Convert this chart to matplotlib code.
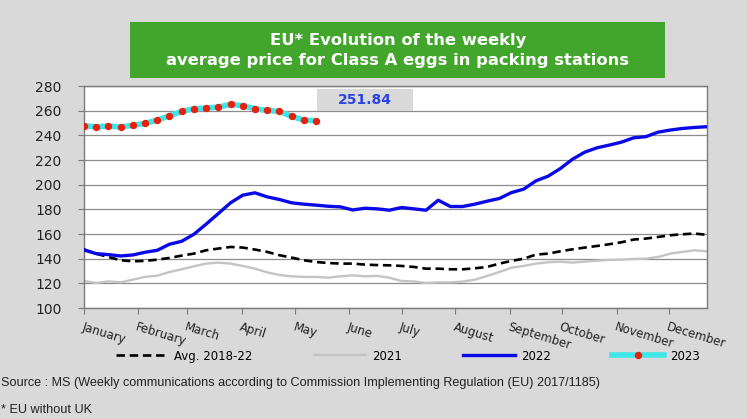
"""
EU weekly average price for Class A eggs in packing stations.
Recreated as a single static figure saved to out.png.
"""

import matplotlib
matplotlib.use("Agg")
import matplotlib.pyplot as plt

BG = "#d9d9d9"
GREEN = "#42a62c"

# week numbers (1..52) and month start positions in week units
weeks = list(range(1, 53))
month_pos = [1.0, 5.4, 9.4, 13.9, 18.3, 22.7, 27.0, 31.4, 35.9, 40.1, 44.6, 48.9]
month_labels = ["January", "February", "March", "April", "May", "June", "July",
                "August", "September", "October", "November", "December"]

avg_2018_22 = [147.6, 144.0, 141.4, 138.7, 137.9, 138.2, 139.2, 140.6, 142.5, 144.1,
               146.8, 148.2, 149.5, 149.0, 147.4, 145.5, 142.8, 140.9, 138.7, 137.3,
               136.5, 136.0, 136.0, 135.2, 134.8, 134.6, 134.1, 133.3, 131.9, 131.9,
               131.4, 131.4, 132.2, 133.3, 136.0, 138.2, 140.0, 143.3, 144.1, 146.0,
               147.6, 149.0, 150.3, 151.7, 153.3, 155.5, 156.3, 157.6, 159.0, 159.8,
               160.4, 159.3]

y2021 = [121.9, 120.3, 121.6, 120.8, 123.0, 125.2, 126.2, 129.2, 131.4, 133.8,
         136.0, 136.8, 136.0, 134.1, 131.9, 128.9, 126.8, 125.7, 125.2, 125.2,
         124.6, 125.7, 126.5, 125.7, 126.0, 124.6, 121.9, 121.6, 120.3, 120.8,
         120.8, 121.4, 123.0, 126.0, 129.2, 132.7, 134.1, 136.0, 137.1, 137.6,
         136.8, 137.6, 138.4, 139.0, 139.2, 139.8, 140.0, 141.4, 144.1, 145.5,
         146.8, 146.0]

y2022 = [147.0, 144.1, 143.3, 142.2, 143.0, 145.2, 146.8, 151.7, 154.1, 159.8,
         168.0, 176.6, 185.3, 191.5, 193.4, 190.1, 188.0, 185.3, 184.2, 183.4,
         182.5, 182.0, 179.5, 180.9, 180.4, 179.3, 181.5, 180.4, 179.3, 187.4,
         182.3, 182.3, 184.2, 186.6, 188.8, 193.6, 196.4, 203.1, 206.9, 213.1,
         220.7, 226.4, 229.9, 232.1, 234.5, 238.0, 238.9, 242.6, 244.3, 245.6,
         246.4, 247.0]

weeks_2023 = list(range(1, 21))
y2023 = [247.8, 246.9, 247.6, 246.8, 248.1, 249.7, 252.4, 255.9, 259.4, 261.6,
         262.1, 262.9, 265.1, 264.0, 261.6, 260.2, 259.4, 255.4, 252.4, 251.84]

last_label = "251.84"

fig = plt.figure(figsize=(7.47, 4.19), dpi=100, facecolor=BG)
ax = fig.add_axes([0.1124, 0.2649, 0.834, 0.5298])
ax.set_facecolor("white")

ax.plot(weeks, avg_2018_22, color="black", lw=1.9, ls=(0, (3.2, 1.8)),
        label="Avg. 2018-22", zorder=3)
ax.plot(weeks, y2021, color="#c4c4c4", lw=1.7, label="2021", zorder=2)
ax.plot(weeks, y2022, color="#0a0ae6", lw=2.4, label="2022", zorder=4)
ax.plot(weeks_2023, y2023, color="#3ee6ea", lw=4.0, marker="o", ms=4.3,
        mfc="#e8200c", mec="#e8200c", label="2023", zorder=5)

ax.set_xlim(1, 52)
ax.set_ylim(100, 280)
ax.set_yticks(range(100, 281, 20))
ax.grid(True, axis="y", color="#8c8c8c", lw=0.9)
ax.set_axisbelow(True)
for s in ax.spines.values():
    s.set_color("#7a7a7a")
    s.set_linewidth(1.0)

ax.set_xticks(month_pos)
ax.set_xticklabels(month_labels, rotation=-17, ha="left", va="top",
                   rotation_mode="anchor", fontsize=8.5, color="#222222")
ax.tick_params(axis="x", length=4, color="#7a7a7a", pad=5)
ax.tick_params(axis="y", length=4, color="#7a7a7a", labelsize=10,
               labelcolor="#222222", pad=12)

# value box for latest 2023 point
fig.patches.append(plt.Rectangle((317 / 747, 1 - 111 / 419), 96 / 747, 22 / 419,
                                 transform=fig.transFigure, fc="#d9d9d9", ec="none",
                                 zorder=6))
fig.text(365 / 747, 1 - 100 / 419, last_label, ha="center", va="center",
         fontsize=10, fontweight="bold", color="#2a44e0", zorder=7)

# title banner
fig.patches.append(plt.Rectangle((130 / 747, 1 - 78 / 419), 535 / 747, 56 / 419,
                                 transform=fig.transFigure, fc=GREEN, ec="none"))
fig.text(398 / 747, 1 - 41 / 419, "EU* Evolution of the weekly", ha="center",
         va="center", color="white", fontsize=11.8, fontweight="bold")
fig.text(398 / 747, 1 - 61 / 419, "average price for Class A eggs in packing stations",
         ha="center", va="center", color="white", fontsize=11.8, fontweight="bold")

fig.legend(loc="center", bbox_to_anchor=(408 / 747, 1 - 356 / 419), ncol=4,
           frameon=False, fontsize=8.5, handlelength=4.4, handletextpad=0.5,
           columnspacing=5.2)

fig.text(0.002, 1 - 383 / 419,
         "Source : MS (Weekly communications according to Commission Implementing Regulation (EU) 2017/1185)",
         ha="left", va="center", fontsize=9.1, color="#222222",
         family=["Liberation Sans", "DejaVu Sans"])
fig.text(0.002, 1 - 410 / 419, "* EU without UK", ha="left", va="center",
         fontsize=9.1, color="#222222", family=["Liberation Sans", "DejaVu Sans"])

fig.savefig("out.png", dpi=100, facecolor=BG)
